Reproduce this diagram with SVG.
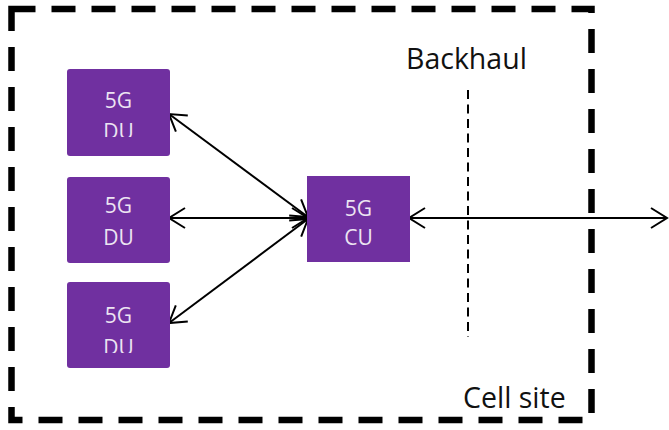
<svg xmlns="http://www.w3.org/2000/svg" width="669" height="430" viewBox="0 0 669 430">
  <style>
    .box { fill: #7030A0; }
    .lbl { font-family: "Open Sans", "Liberation Sans", sans-serif; font-size: 21px; fill: #ECE4F2; text-anchor: middle; }
    .cap { font-family: "Open Sans", "Liberation Sans", sans-serif; font-size: 28.5px; fill: #111; }
    .link { stroke: #000; stroke-width: 2; fill: none; marker-start: url(#head); marker-end: url(#head); }
  </style>
  <defs>
    <marker id="head" viewBox="0 0 20 22" refX="18" refY="11" markerWidth="20" markerHeight="22" markerUnits="userSpaceOnUse" orient="auto-start-reverse">
      <path d="M2,1 L18,11 L2,21" fill="none" stroke="#000" stroke-width="2"/>
    </marker>
    <clipPath id="clipDu1"><rect x="67" y="69" width="103" height="68"/></clipPath>
    <clipPath id="clipDu3"><rect x="67" y="282" width="103" height="71"/></clipPath>
  </defs>

  <!-- cell site boundary -->
  <rect id="cell-site" x="11.5" y="9" width="580" height="411" fill="none" stroke="#000" stroke-width="6.5" stroke-dasharray="24 16"/>
  <text class="cap" x="463" y="408">Cell site</text>

  <!-- backhaul marker -->
  <g id="backhaul">
    <line x1="468" y1="90" x2="468" y2="337" stroke="#000" stroke-width="2" stroke-dasharray="9 5.5"/>
    <text class="cap" x="406" y="69">Backhaul</text>
  </g>

  <!-- connectors -->
  <g id="links">
    <line class="link" x1="169" y1="114" x2="308" y2="217"/>
    <line class="link" x1="169" y1="218" x2="308" y2="218"/>
    <line class="link" x1="169" y1="323" x2="308" y2="219"/>
    <line class="link" x1="409" y1="218" x2="667" y2="218"/>
  </g>

  <!-- distributed units -->
  <g id="du1">
    <rect class="box" x="67" y="69" width="103" height="87" rx="3"/>
    <g clip-path="url(#clipDu1)">
      <text class="lbl" x="118.5" y="108">5G</text>
      <text class="lbl" x="118.5" y="139">DU</text>
    </g>
  </g>
  <g id="du2">
    <rect class="box" x="67" y="177" width="103" height="86" rx="3"/>
    <text class="lbl" x="118.5" y="213">5G</text>
    <text class="lbl" x="118.5" y="245">DU</text>
  </g>
  <g id="du3">
    <rect class="box" x="67" y="282" width="103" height="86" rx="3"/>
    <g clip-path="url(#clipDu3)">
      <text class="lbl" x="118.5" y="323">5G</text>
      <text class="lbl" x="118.5" y="355">DU</text>
    </g>
  </g>

  <!-- central unit -->
  <g id="cu">
    <rect class="box" x="307" y="176" width="103" height="86"/>
    <text class="lbl" x="358.5" y="216">5G</text>
    <text class="lbl" x="358.5" y="245">CU</text>
  </g>
</svg>
